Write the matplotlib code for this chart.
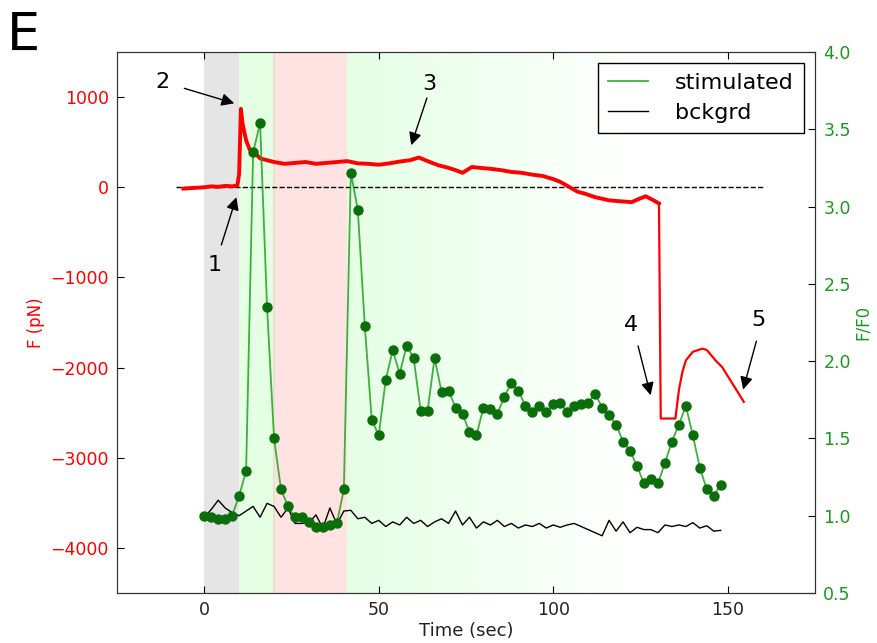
import numpy as np
import matplotlib
matplotlib.use("Agg")
import matplotlib.pyplot as plt

# force trace F (pN) vs time (sec)
force_t = [-6, -4, -2, 0, 2, 4, 6, 8, 9.5, 10, 10.5, 11, 12, 13, 14, 16, 18,
           20, 23, 26, 29, 32, 35, 38, 41, 44, 47, 50, 53, 56, 59, 61.5, 64,
           67, 70, 72, 74, 76.7, 79, 82, 85, 88, 91, 94, 97, 100, 102, 104.5,
           107, 109, 112, 116, 119, 122.5, 124.5, 126.5, 128.5, 130.3, 130.8,
           135, 136, 137, 138, 140, 142.7, 144, 146.5, 148.4, 151.3, 153, 154.6]
force_pn = [-15, -10, -5, 0, 10, 5, 15, 10, 20, 150, 870, 700, 520, 420, 400,
            320, 300, 280, 260, 270, 280, 260, 270, 280, 290, 265, 260, 250,
            265, 285, 300, 330, 290, 245, 215, 190, 160, 225, 215, 205, 190,
            170, 160, 140, 125, 90, 60, 5, -50, -70, -110, -145, -155, -165,
            -130, -100, -140, -180, -2565, -2565, -2250, -2050, -1920, -1825,
            -1790, -1805, -1920, -1995, -2175, -2280, -2380]

# F/F0, sampled every 2 s
stim_t = np.arange(0, 150, 2)
stim_ff0 = [1.00, 0.99, 0.98, 0.98, 1.00, 1.13, 1.29, 3.35, 3.54, 2.35,
            1.50, 1.17, 1.06, 0.99, 0.99, 0.96, 0.93, 0.93, 0.94, 0.95,
            1.17, 3.22, 2.98, 2.23, 1.62, 1.52, 1.88, 2.07, 1.92, 2.10,
            2.02, 1.68, 1.68, 2.02, 1.80, 1.81, 1.70, 1.66, 1.54, 1.52,
            1.70, 1.69, 1.66, 1.77, 1.86, 1.81, 1.71, 1.67, 1.71, 1.67,
            1.72, 1.73, 1.67, 1.71, 1.72, 1.73, 1.79, 1.70, 1.65, 1.59,
            1.48, 1.42, 1.32, 1.21, 1.24, 1.21, 1.34, 1.48, 1.59, 1.71,
            1.52, 1.31, 1.17, 1.13, 1.20]

bg_t = np.arange(0, 150, 2)
bg_ff0 = [0.99, 1.04, 1.10, 1.05, 1.02, 1.00, 1.03, 1.06, 0.99, 1.08,
          1.06, 0.99, 1.05, 0.95, 0.95, 0.955, 1.005, 0.92, 1.05, 0.945,
          1.03, 1.035, 0.98, 0.99, 0.95, 0.97, 0.93, 0.96, 0.94, 0.99,
          0.95, 0.97, 0.93, 0.96, 0.98, 0.95, 1.03, 0.94, 0.99, 0.92,
          0.96, 0.94, 0.97, 0.93, 0.95, 0.92, 0.94, 0.93, 0.95, 0.92,
          0.94, 0.925, 0.94, 0.95, 0.93, 0.91, 0.89, 0.87, 0.97, 0.90,
          0.96, 0.89, 0.925, 0.91, 0.91, 0.89, 0.94, 0.93, 0.94, 0.93,
          0.955, 0.92, 0.935, 0.90, 0.905]

# numbered annotations: label, text pos, arrow tail, arrow tip (time, pN)
notes = [("1", (2.9, -865), (4.9, -640), (9.2, -110)),
         ("2", (-12, 1165), (-5.7, 1097), (8.6, 931)),
         ("3", (64.4, 1142), (63.8, 990), (59.3, 466)),
         ("4", (122.2, -1530), (124.3, -1760), (127.9, -2307)),
         ("5", (158.9, -1475), (158.2, -1708), (154.4, -2244))]

fig = plt.figure(figsize=(8.77, 6.43), dpi=100)
ax1 = fig.add_axes([0.1334, 0.0778, 0.7959, 0.8413])
ax2 = ax1.twinx()

# shaded periods
ax1.axvspan(0, 10, color='0.5', alpha=0.2, lw=0, zorder=0)
ax1.axvspan(10, 20.4, color='#00ff00', alpha=0.1, lw=0, zorder=0)
ax1.axvspan(19.8, 41, color='red', alpha=0.11, lw=0, zorder=0)
grad = np.zeros((1, 256, 4))
grad[0, :, 1] = 1.0
grad[0, :, 0] = 0.2
grad[0, :, 2] = 0.2
grad[0, :, 3] = np.linspace(0.13, 0.0, 256)
ax1.imshow(grad, extent=[41, 125, -4500, 1500], aspect='auto', zorder=0,
           interpolation='bilinear')

ax1.hlines(0, -8, 160, colors='k', linestyles='--', lw=1, zorder=2)
ax1.plot(force_t[:58], force_pn[:58], color='red', lw=2.8, zorder=3)
ax1.plot(force_t[57:], force_pn[57:], color='red', lw=1.6, zorder=3)

for lab, txt, tail, tip in notes:
    ax1.text(txt[0], txt[1], lab, fontsize=16, ha='center', va='center')
    ax1.annotate('', xy=tip, xytext=tail,
                 arrowprops=dict(arrowstyle='-|>', color='k', lw=1,
                                 mutation_scale=19, shrinkA=0, shrinkB=0))

ax2.plot(bg_t, bg_ff0, color='k', lw=1, label='bckgrd')
ax2.plot(stim_t, stim_ff0, color='#22a022', lw=1.3, alpha=0.85, label='stimulated')
ax2.plot(stim_t, stim_ff0, 'o', color='#0a6e0a', ms=6.5, mec='#0a6e0a')

ax1.set_xlim(-25, 175)
ax1.set_ylim(-4500, 1500)
ax2.set_ylim(0.5, 4.0)
ax1.set_xticks([0, 50, 100, 150])
ax1.set_yticks([-4000, -3000, -2000, -1000, 0, 1000])
ax2.set_yticks(np.arange(0.5, 4.01, 0.5))
ax2.yaxis.set_major_formatter(matplotlib.ticker.FormatStrFormatter('%.1f'))

ax1.tick_params(axis='x', direction='in', top=True, labelsize=12.5,
                labelcolor='#222222', length=5, pad=6)
ax1.tick_params(axis='y', direction='in', labelsize=12.5, labelcolor='red',
                length=5, pad=6)
ax2.tick_params(axis='y', direction='in', labelsize=12.5,
                labelcolor='#1a9a1a', length=5, pad=6)
for ax in (ax1, ax2):
    for sp in ax.spines.values():
        sp.set_color('#333333')

ax1.set_xlabel('Time (sec)', fontsize=13, color='#222222', labelpad=2)
ax1.set_ylabel('F (pN)', fontsize=12, color='red', labelpad=4)
ax2.set_ylabel('F/F0', fontsize=12, color='#1a9a1a', labelpad=2)

handles, labels = ax2.get_legend_handles_labels()
leg = ax2.legend(handles[::-1], labels[::-1], loc='upper right', fontsize=16,
                 fancybox=False, framealpha=1, edgecolor='k',
                 bbox_to_anchor=(0.984, 0.98), borderaxespad=0,
                 handlelength=1.8, borderpad=0.45, labelspacing=0.45,
                 handletextpad=1.2)
leg.get_frame().set_linewidth(1)

fig.text(0.008, 0.985, 'E', fontsize=38, va='top', ha='left')

fig.savefig('out.png', dpi=100)
